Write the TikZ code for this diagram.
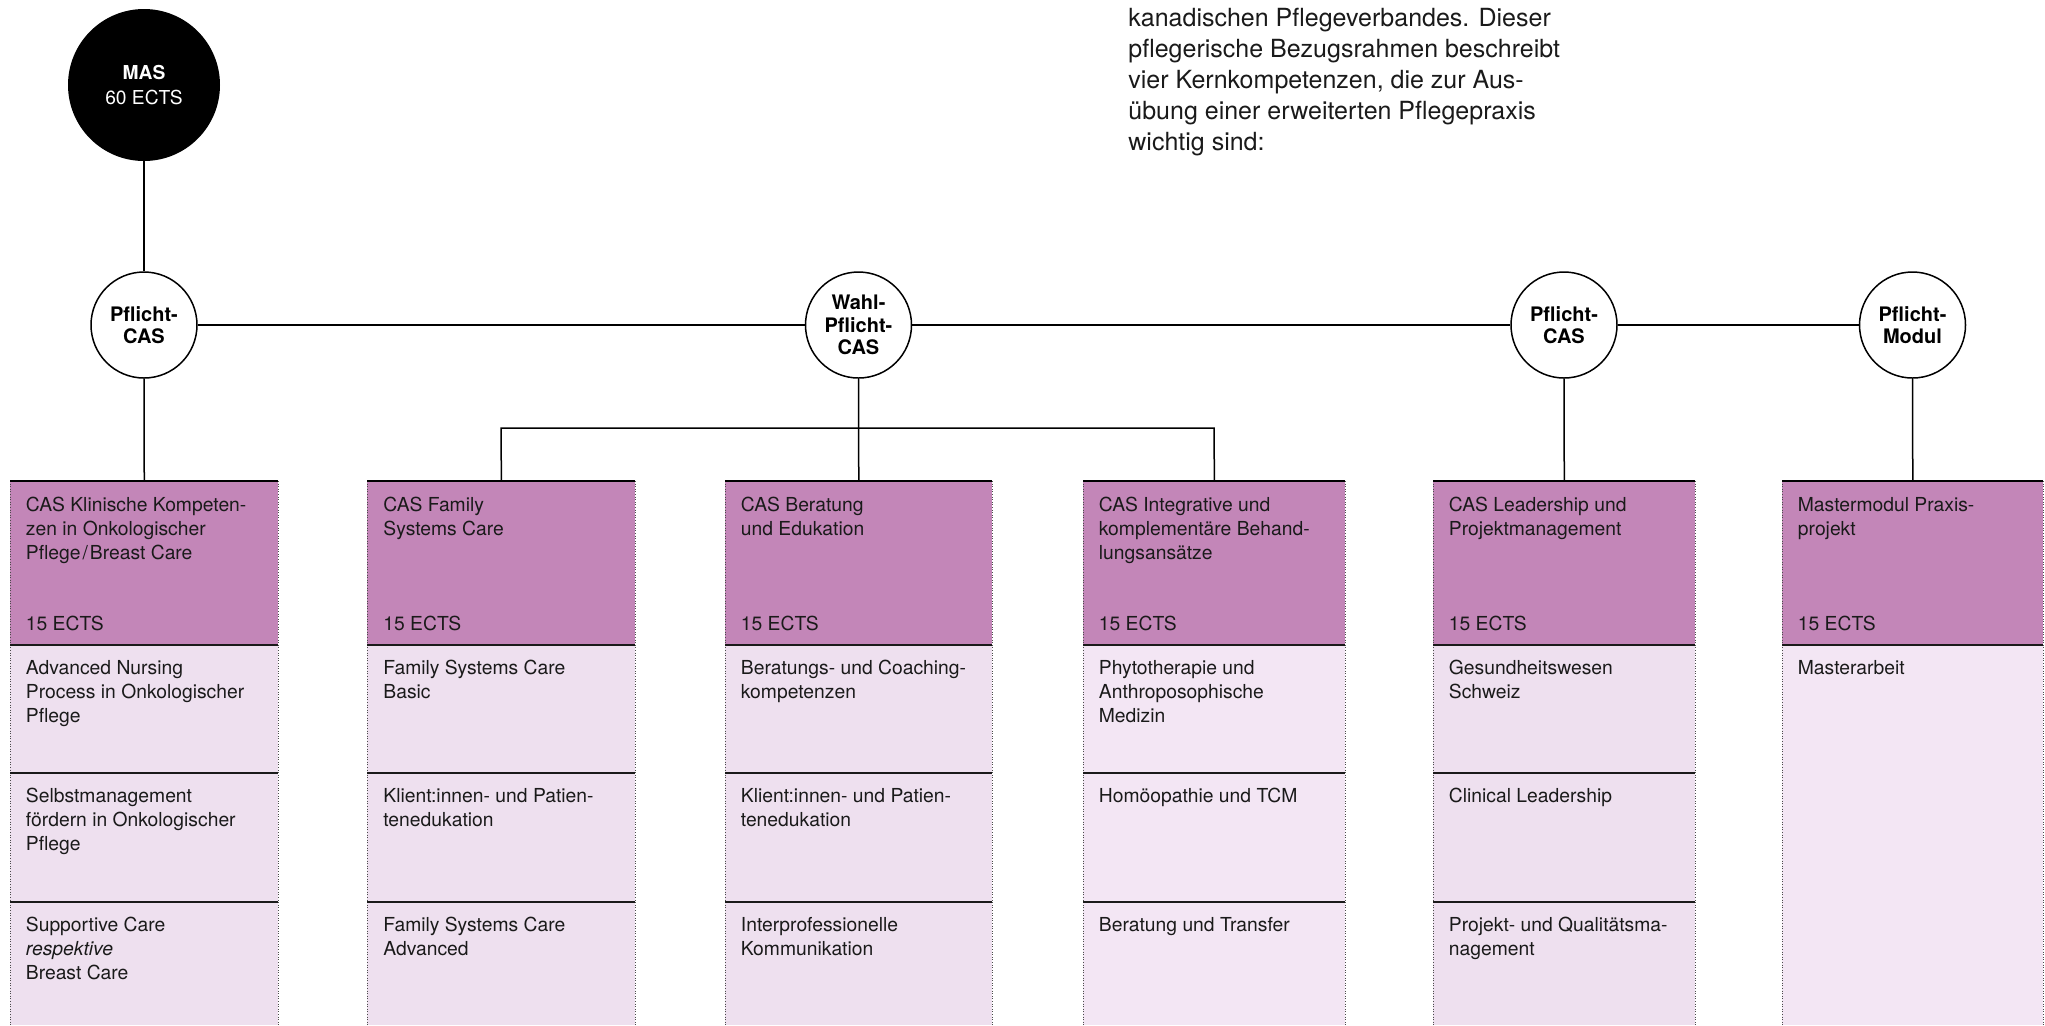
\documentclass[tikz,border=0pt]{standalone}
\usepackage{fontspec}
\setmainfont{TeX Gyre Heros}
\definecolor{hdr}{HTML}{C386B8}
\definecolor{rowA}{HTML}{EEE0EF}
\definecolor{rowB}{HTML}{F3E6F4}
\definecolor{ink}{HTML}{1A1A1A}
\newcommand{\ml}[1]{\begin{tabular}[t]{@{}l@{}}#1\end{tabular}}
\tikzset{
  conn/.style={draw=black, line width=0.75pt},
  circ/.style={circle, draw=black, line width=0.75pt, fill=white, minimum size=53pt, inner sep=0pt,
    align=center, font=\fontsize{10}{11.3}\selectfont\bfseries},
  masnode/.style={circle, fill=black, minimum size=76pt, inner sep=0pt, text=white, align=center,
    font=\fontsize{9.6}{12.5}\selectfont},
  hdrbox/.style={rectangle, fill=hdr, inner sep=0pt, minimum height=82pt, anchor=north west},
  topline/.style={draw=black, line width=1pt},
  sepline/.style={draw=ink, line width=0.75pt},
  sideline/.style={draw=black!70, line width=0.4pt, dash pattern=on 0.5pt off 0.8pt},
  txt/.style={anchor=base west, inner sep=0pt, font=\fontsize{9.65}{12}\selectfont, text=ink},
  paratxt/.style={anchor=base west, inner sep=0pt, font=\fontsize{12.5}{15.5}\selectfont, text=ink}
}
\begin{document}
\begin{tikzpicture}[x=0.5pt,y=-0.5pt]
\useasboundingbox (0,0) rectangle (2045,1025);

% ---------- columns: fills ----------
\node[hdrbox, minimum width=134pt]   (h1) at (10,481) {};
\node[hdrbox, minimum width=134pt]   (h2) at (367,481) {};
\node[hdrbox, minimum width=133.5pt] (h3) at (725,481) {};
\node[hdrbox, minimum width=131pt]   (h4) at (1083,481) {};
\node[hdrbox, minimum width=131pt]   (h5) at (1433,481) {};
\node[hdrbox, minimum width=130.5pt] (h6) at (1782,481) {};

\fill[rowA] (10,645) rectangle (278,1025);
\fill[rowA] (367,645) rectangle (635,1025);
\fill[rowA] (725,645) rectangle (992,1025);
\fill[rowB] (1083,645) rectangle (1345,1025);
\fill[rowA] (1433,645) rectangle (1695,1025);
\fill[rowB] (1782,645) rectangle (2043,1025);

% side edges
\foreach \xa in {10,278,367,635,725,992,1083,1345,1433,1695,1782,2043}
  \draw[sideline] (\xa,481) -- (\xa,1025);

% separators
\foreach \xa/\xb in {10/278,367/635,725/992,1083/1345,1433/1695}{
  \draw[sepline] (\xa,645) -- (\xb,645);
  \draw[sepline] (\xa,773) -- (\xb,773);
  \draw[sepline] (\xa,902) -- (\xb,902);
}
\draw[sepline] (1782,645) -- (2043,645);

% top lines
\foreach \xa/\xb in {10/278,367/635,725/992,1083/1345,1433/1695,1782/2043}
  \draw[topline] (\xa,481) -- (\xb,481);

% ---------- circles ----------
\node[masnode] (mas) at (144,85) {\textbf{MAS}\\60 ECTS};
\node[circ] (p1) at (144,325) {Pflicht-\\CAS};
\node[circ] (wahl) at (858.5,325) {Wahl-\\Pflicht-\\CAS};
\node[circ] (p2) at (1564,325) {Pflicht-\\CAS};
\node[circ] (modul) at (1912.5,325) {Pflicht-\\Modul};

\coordinate (brL) at (501,428);
\coordinate (brR) at (1214,428);

% ---------- connectors ----------
\draw[conn] (mas) -- (p1);
\draw[conn] (p1) -- (wahl);
\draw[conn] (wahl) -- (p2);
\draw[conn] (p2) -- (modul);
\draw[conn] (p1) -- (h1);
\draw[conn] (wahl) -- (h3);
\draw[conn] (h2.north) -- (brL) -- (brR) -- (h4.north);
\draw[conn] (p2) -- (h5);
\draw[conn] (modul) -- (h6);

% ---------- column texts ----------
% col 1
\node[txt] (t1a) at (25.5,511) {\ml{CAS Klinische Kompeten-\\zen in Onkologischer\\Pflege\kern1pt/\kern1pt Breast Care}};
\node[txt] (t1b) at (25.5,630) {15 ECTS};
\node[txt] (t1c) at (25.5,674) {\ml{Advanced Nursing\\Process in Onkologischer\\Pflege}};
\node[txt] (t1d) at (25.5,802) {\ml{Selbstmanagement\\fördern in Onkologischer\\Pflege}};
\node[txt] (t1e) at (25.5,931) {\ml{Supportive Care\\\itshape respektive\\Breast Care}};
% col 2
\node[txt] (t2a) at (383,511) {\ml{CAS Family\\Systems Care}};
\node[txt] (t2b) at (383,630) {15 ECTS};
\node[txt] (t2c) at (383,674) {\ml{Family Systems Care\\Basic}};
\node[txt] (t2d) at (383,802) {\ml{Klient:innen- und Patien-\\tenedukation}};
\node[txt] (t2e) at (383,931) {\ml{Family Systems Care\\Advanced}};
% col 3
\node[txt] (t3a) at (740.5,511) {\ml{CAS Beratung\\und Edukation}};
\node[txt] (t3b) at (740.5,630) {15 ECTS};
\node[txt] (t3c) at (740.5,674) {\ml{Beratungs- und Coaching-\\kompetenzen}};
\node[txt] (t3d) at (740.5,802) {\ml{Klient:innen- und Patien-\\tenedukation}};
\node[txt] (t3e) at (740.5,931) {\ml{Interprofessionelle\\Kommunikation}};
% col 4
\node[txt] (t4a) at (1098.5,511) {\ml{CAS Integrative und\\komplementäre Behand-\\lungsansätze}};
\node[txt] (t4b) at (1098.5,630) {15 ECTS};
\node[txt] (t4c) at (1098.5,674) {\ml{Phytotherapie und\\Anthroposophische\\Medizin}};
\node[txt] (t4d) at (1098.5,802) {Homöopathie und TCM};
\node[txt] (t4e) at (1098.5,931) {Beratung und Transfer};
% col 5
\node[txt] (t5a) at (1448.5,511) {\ml{CAS Leadership und\\Projektmanagement}};
\node[txt] (t5b) at (1448.5,630) {15 ECTS};
\node[txt] (t5c) at (1448.5,674) {\ml{Gesundheitswesen\\Schweiz}};
\node[txt] (t5d) at (1448.5,802) {Clinical Leadership};
\node[txt] (t5e) at (1448.5,931) {\ml{Projekt- und Qualitätsma-\\nagement}};
% col 6
\node[txt] (t6a) at (1797.5,511) {\ml{Mastermodul Praxis-\\projekt}};
\node[txt] (t6b) at (1797.5,630) {15 ECTS};
\node[txt] (t6c) at (1797.5,674) {Masterarbeit};

% ---------- paragraph ----------
\node[paratxt] (para) at (1128,26) {\ml{kanadischen Pflegeverbandes. Dieser\\pflegerische Bezugsrahmen beschreibt\\vier Kernkompetenzen, die zur Aus-\\übung einer erweiterten Pflegepraxis\\wichtig sind:}};
\end{tikzpicture}
\end{document}
